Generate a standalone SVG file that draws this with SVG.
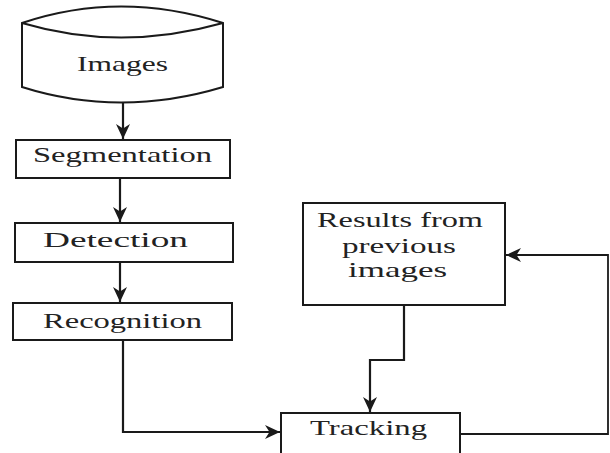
<svg xmlns="http://www.w3.org/2000/svg" width="610" height="453" viewBox="0 0 610 453">
<style>
.box{fill:#fff;stroke:#1a1a1a;stroke-width:2}
.lbl{font-family:"Liberation Serif","Times New Roman",serif;font-size:21px;fill:#222}
.conn{fill:none;stroke:#1a1a1a;stroke-width:2.2}
</style>
<defs>
<marker id="arr" markerUnits="userSpaceOnUse" markerWidth="16" markerHeight="16" refX="15" refY="8" orient="auto">
<path d="M0,1 L15,8 L0,15 L4.5,8 Z" fill="#1a1a1a"/>
</marker>
</defs>
<rect width="610" height="453" fill="#fff"/>
<g id="connectors">
<path class="conn" d="M123,102 L123,139" marker-end="url(#arr)"/>
<path class="conn" d="M120,178 L120,222" marker-end="url(#arr)"/>
<path class="conn" d="M120,262 L120,302" marker-end="url(#arr)"/>
<path class="conn" d="M123,340 L123,432 L280,432" marker-end="url(#arr)"/>
<path class="conn" d="M404,305 L404,360 L370,360 L370,412" marker-end="url(#arr)"/>
<path class="conn" d="M460,434 L608,434 L608,255 L506,255" marker-end="url(#arr)" style="stroke-width:1.8"/>
</g>
<g id="images">
<path class="box" d="M22,23 Q120,-10 223,23 L223,87 Q120,118 22,87 Z"/>
<path class="box" style="fill:none" d="M22,23 Q120,52 223,23"/>
<text class="lbl" x="77" y="71" textLength="91" lengthAdjust="spacingAndGlyphs">Images</text>
</g>
<g id="segmentation">
<rect class="box" x="16" y="140" width="214" height="38"/>
<text class="lbl" x="33" y="162" textLength="179" lengthAdjust="spacingAndGlyphs">Segmentation</text>
</g>
<g id="detection">
<rect class="box" x="15" y="223" width="218" height="39"/>
<text class="lbl" x="43" y="247" textLength="145" lengthAdjust="spacingAndGlyphs">Detection</text>
</g>
<g id="recognition">
<rect class="box" x="13" y="303" width="219" height="37"/>
<text class="lbl" x="43" y="328" textLength="159" lengthAdjust="spacingAndGlyphs">Recognition</text>
</g>
<g id="results">
<rect class="box" x="303" y="203" width="202" height="102"/>
<text class="lbl" x="317" y="227" textLength="166" lengthAdjust="spacingAndGlyphs">Results from</text>
<text class="lbl" x="342" y="253" textLength="114" lengthAdjust="spacingAndGlyphs">previous</text>
<text class="lbl" x="348" y="277" textLength="99" lengthAdjust="spacingAndGlyphs">images</text>
</g>
<g id="tracking">
<rect class="box" x="281" y="413" width="179" height="44"/>
<text class="lbl" x="310" y="435" textLength="117" lengthAdjust="spacingAndGlyphs">Tracking</text>
</g>
</svg>
